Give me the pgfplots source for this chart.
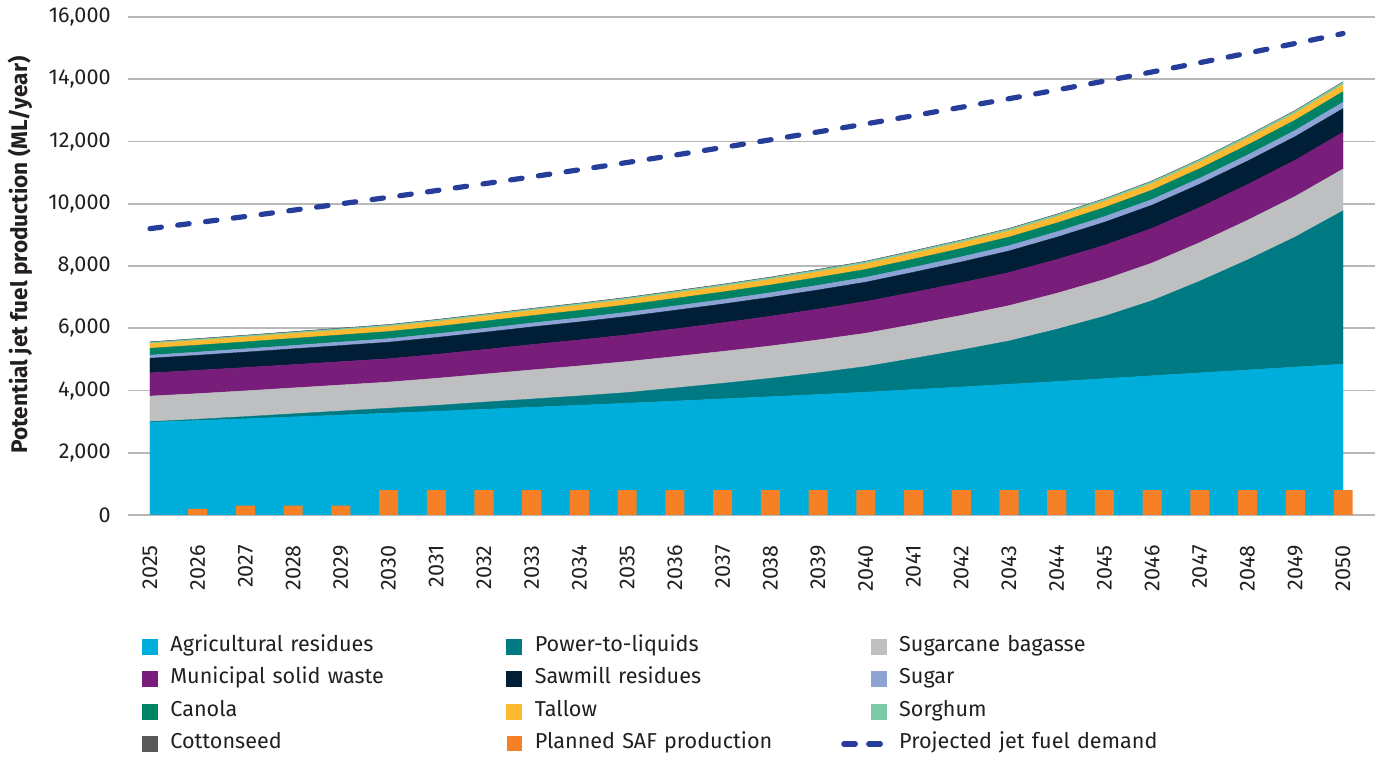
\documentclass[border=0pt]{standalone}
\usepackage{pgfplots}
\pgfplotsset{compat=1.18}
\usepackage{pgfplotstable}
\usepackage{fontspec}
\setmainfont{Fira Sans}

\definecolor{agri}{RGB}{0,174,219}
\definecolor{ptl}{RGB}{0,122,130}
\definecolor{cane}{RGB}{190,191,193}
\definecolor{msw}{RGB}{121,29,122}
\definecolor{saw}{RGB}{0,30,53}
\definecolor{sugar}{RGB}{141,163,214}
\definecolor{canola}{RGB}{0,130,100}
\definecolor{tallow}{RGB}{253,185,47}
\definecolor{sorghum}{RGB}{122,203,166}
\definecolor{cotton}{RGB}{88,89,91}
\definecolor{saf}{RGB}{245,128,37}
\definecolor{demand}{RGB}{38,62,153}
\definecolor{txt}{RGB}{35,31,32}

% ML/year
\pgfplotstableread{
year agri ptl cane msw saw sugar canola tallow sorghum cotton saf demand
2025 2980 20 820 745 470 100 220 150 40 20 0 9200
2026 3035 40 824 750 482 103 222 152 41 20 200 9393
2027 3090 70 828 750 494 106 224 154 42 20 300 9590
2028 3150 100 832 750 506 109 226 156 43 20 300 9792
2029 3210 130 836 750 518 112 228 158 44 20 300 9997
2030 3270 160 840 750 530 115 230 160 45 20 800 10207
2031 3330 190 870 770 542 119 232 162 46 20 800 10422
2032 3395 230 900 790 554 123 234 164 47 20 800 10641
2033 3460 265 935 815 566 127 236 166 48 20 800 10864
2034 3525 300 965 835 578 131 238 168 49 20 800 11092
2035 3590 343 997 858 590 135 240 170 50 20 800 11325
2036 3660 420 1010 890 596 139 243 173 52 20 800 11563
2037 3730 500 1025 920 602 143 246 176 54 20 800 11806
2038 3800 590 1040 955 608 147 249 179 56 20 800 12054
2039 3870 700 1055 990 614 151 252 182 58 20 800 12307
2040 3945 825 1070 1020 620 155 255 185 60 20 800 12565
2041 4030 1000 1090 1035 644 160 262 189 61 20 800 12829
2042 4110 1190 1110 1050 668 165 269 193 62 20 800 13099
2043 4200 1390 1135 1065 692 170 276 197 63 20 800 13374
2044 4287 1680 1155 1085 716 175 283 201 64 20 800 13655
2045 4380 2005 1180 1100 740 180 290 205 65 20 800 13941
2046 4473 2413 1210 1115 744 185 300 209 67 20 800 14234
2047 4566 2947 1240 1130 748 190 310 213 69 20 800 14533
2048 4659 3535 1275 1150 752 195 320 217 71 20 800 14838
2049 4752 4180 1305 1165 756 200 330 221 73 20 800 15150
2050 4845 4930 1340 1180 760 205 340 225 75 20 800 15468
}\data

\begin{document}
\fontsize{10.8}{13}\selectfont
\begin{tikzpicture}[every node/.style={text=txt}]
\useasboundingbox (0,0) rectangle (689.5pt,379pt);

% stacked feedstocks + legend
\begin{axis}[
    at={(64pt,121.5pt)}, anchor=south west,
    width=623.5pt, height=249pt, scale only axis,
    xmin=2024.54, xmax=2050.67, ymin=0, ymax=16000,
    stack plots=y,
    xtick={2025,...,2050}, ytick={0,2000,...,16000},
    scaled y ticks=false,
    axis line style={draw=none}, major tick length=0pt,
    ymajorgrids, major grid style={draw=black!28, line width=0.9pt},
    /pgf/number format/assume math mode=true,
    xticklabel style={rotate=90, anchor=east, inner sep=0pt, /pgf/number format/1000 sep={}},
    xticklabel shift=15pt,
    yticklabel style={anchor=east, inner sep=0pt, /pgf/number format/1000 sep={,}},
    yticklabel shift=8.5pt,
    ylabel={Potential jet fuel production (ML/year)},
    every axis y label/.style={at={(axis description cs:-0.0866,0.522)}, rotate=90, anchor=center,
        font=\fontsize{11.3}{13}\selectfont\bfseries},
    legend columns=3, legend cell align=left,
    legend image code/.code={\fill[#1] (0pt,-3.75pt) rectangle (7.5pt,3.75pt);},
    legend style={at={(0.01123,-0.2379)}, anchor=north west, draw=none, fill=none,
        inner sep=0pt, outer sep=0pt, column sep=0pt, row sep=3.25pt,
        /tikz/every odd column/.style={column sep=4.5pt},
        nodes={text width=166pt, inner sep=2pt, text height=7pt, text depth=2pt}},
]
\addplot[fill=agri, draw=agri, line width=0.2pt] table[x=year, y=agri]{\data} \closedcycle;
\addlegendentry{Agricultural residues}
\addplot[fill=ptl, draw=ptl, line width=0.2pt] table[x=year, y=ptl]{\data} \closedcycle;
\addlegendentry{Power-to-liquids}
\addplot[fill=cane, draw=cane, line width=0.2pt] table[x=year, y=cane]{\data} \closedcycle;
\addlegendentry{Sugarcane bagasse}
\addplot[fill=msw, draw=msw, line width=0.2pt] table[x=year, y=msw]{\data} \closedcycle;
\addlegendentry{Municipal solid waste}
\addplot[fill=saw, draw=saw, line width=0.2pt] table[x=year, y=saw]{\data} \closedcycle;
\addlegendentry{Sawmill residues}
\addplot[fill=sugar, draw=sugar, line width=0.2pt] table[x=year, y=sugar]{\data} \closedcycle;
\addlegendentry{Sugar}
\addplot[fill=canola, draw=canola, line width=0.2pt] table[x=year, y=canola]{\data} \closedcycle;
\addlegendentry{Canola}
\addplot[fill=tallow, draw=tallow, line width=0.2pt] table[x=year, y=tallow]{\data} \closedcycle;
\addlegendentry{Tallow}
\addplot[fill=sorghum, draw=sorghum, line width=0.2pt] table[x=year, y=sorghum]{\data} \closedcycle;
\addlegendentry{Sorghum}
\addplot[fill=cotton, draw=cotton, line width=0.2pt] table[x=year, y=cotton]{\data} \closedcycle;
\addlegendentry{Cottonseed}
\addlegendimage{fill=saf, draw=none}
\addlegendentry{Planned SAF production}
\addlegendimage{legend image code/.code={
    \path[draw=none, fill=none] (0pt,-3.75pt) rectangle (7.5pt,3.75pt);
    \draw[overlay, demand, line width=2.6pt, line cap=round, dash pattern=on 5.75pt off 6.75pt]
        (-13.6pt,0pt) -- (5.1pt,0pt);}}
\addlegendentry{Projected jet fuel demand}
\end{axis}

% planned SAF bars and demand line on top
\begin{axis}[
    at={(64pt,121.5pt)}, anchor=south west,
    width=623.5pt, height=249pt, scale only axis,
    xmin=2024.54, xmax=2050.67, ymin=0, ymax=16000,
    axis lines=none,
]
\addplot[ybar, bar width=0.4, fill=saf, draw=none] table[x=year, y=saf]{\data};
\addplot[demand, line width=2.6pt, line cap=round, dash pattern=on 5.75pt off 8.25pt]
    table[x=year, y=demand]{\data};
\end{axis}
\end{tikzpicture}
\end{document}
